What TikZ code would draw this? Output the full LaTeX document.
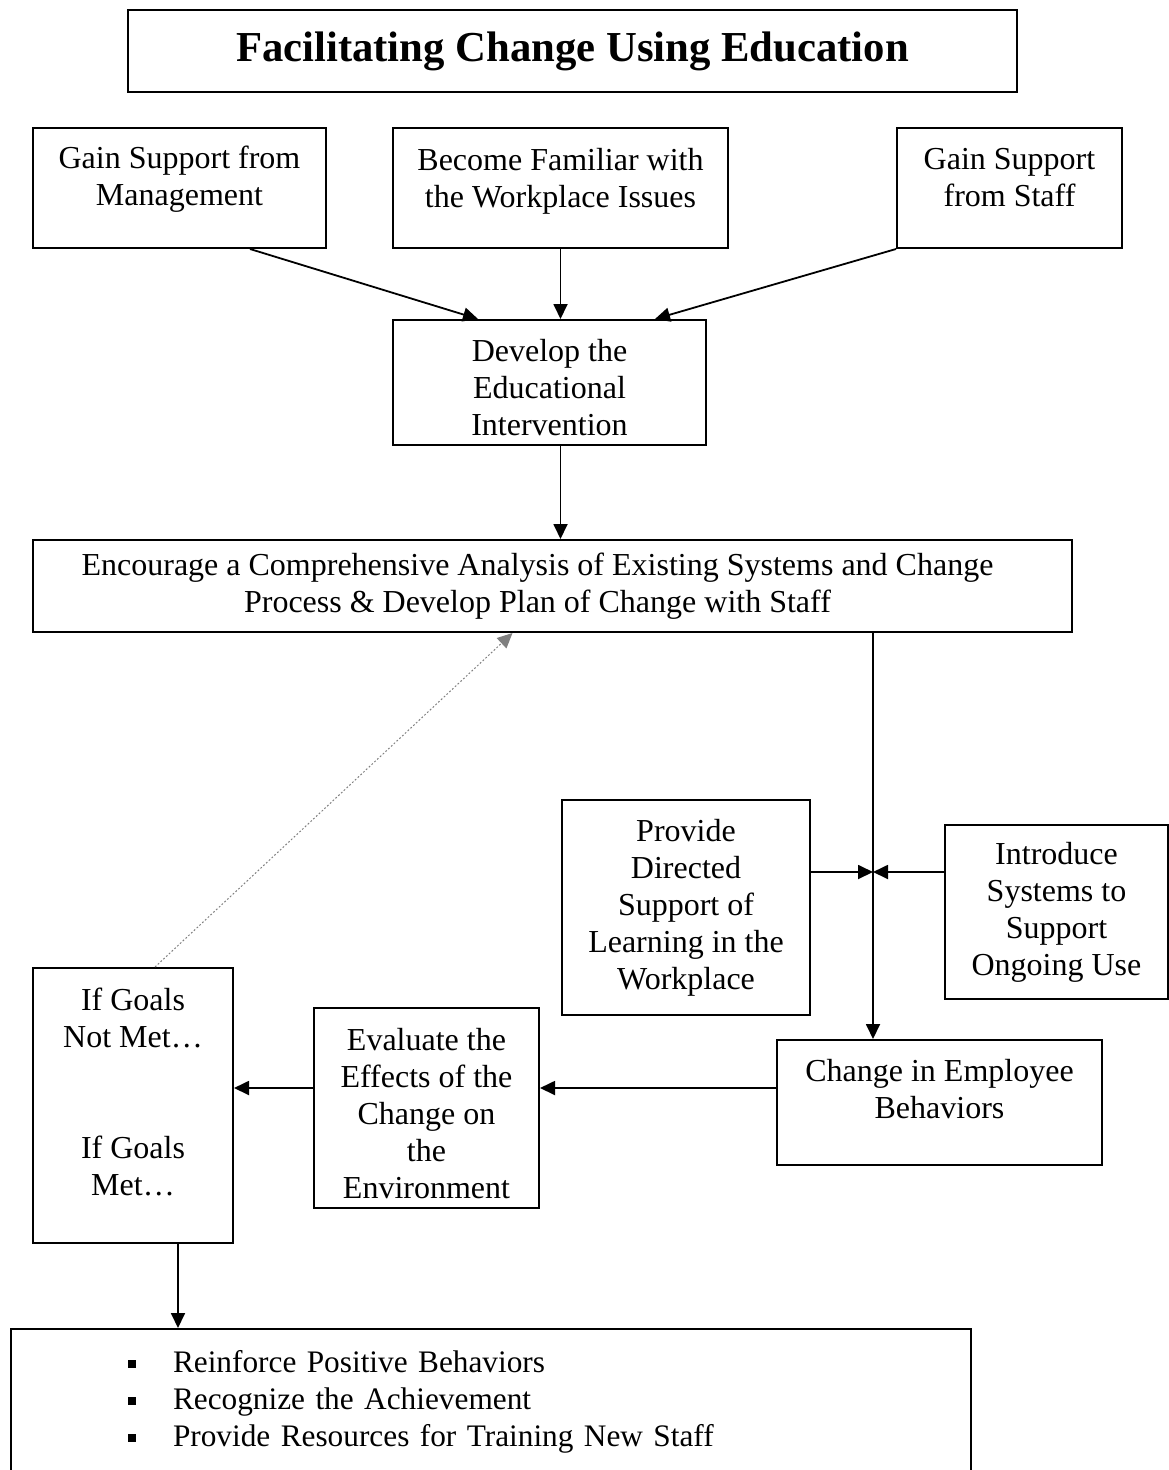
\documentclass[tikz,border=0pt]{standalone}
\usepackage{fontspec}
\setmainfont{Liberation Serif}
\usetikzlibrary{arrows.meta}

\begin{document}
\begin{tikzpicture}[x=1pt,y=-1pt,
  box/.style={draw,line width=2pt,align=center,inner sep=0pt,font=\fontsize{32}{37}\selectfont},
  txt/.style={align=center,inner sep=0pt,font=\fontsize{32}{37}\selectfont},
  arr/.style={line width=1.8pt,-{Triangle[length=15pt,width=14pt]}}]
\useasboundingbox (0,0) rectangle (1169,1470);
% heading
\node[box,line width=2.5pt,minimum width=889,minimum height=82,
  font=\fontsize{42.7}{48}\selectfont\bfseries] (title) at (572.5,51) {Facilitating Change Using Education};
% first row
\node[box,minimum width=293,minimum height=120] (mgmt) at (179.5,188) {};
\node[txt] at ([yshift=9pt]mgmt) {Gain Support from\\Management};
\node[box,minimum width=335,minimum height=120] (familiar) at (560.5,188) {};
\node[txt] at ([yshift=7pt]familiar) {Become Familiar with\\the Workplace Issues};
\node[box,minimum width=225,minimum height=120] (staff) at (1009.5,188) {};
\node[txt] at ([yshift=10pt]staff) {Gain Support\\from Staff};
\node[box,minimum width=313,minimum height=125] (develop) at (549.5,382.5) {};
\node[txt] at ([yshift=-5pt]develop) {Develop the\\Educational\\Intervention};
\node[box,minimum width=1039,minimum height=92] (plan) at (552.5,586) {};
\node[txt] at ([xshift=-15pt]plan) {Encourage a Comprehensive Analysis of Existing Systems and Change\\Process \& Develop Plan of Change with Staff};
% supports
\node[box,minimum width=248,minimum height=215] (directed) at (686,907.5) {Provide\\Directed\\Support of\\Learning in the\\Workplace};
\node[box,minimum width=223,minimum height=174] (introduce) at (1056.5,912) {Introduce\\Systems to\\Support\\Ongoing Use};
% outcome row
\node[box,minimum width=325,minimum height=125] (change) at (939.5,1102.5) {};
\node[txt] at ([yshift=13pt]change) {Change in Employee\\Behaviors};
\node[box,minimum width=225,minimum height=200] (evaluate) at (426.5,1108) {};
\node[txt] at ([yshift=-6pt]evaluate) {Evaluate the\\Effects of the\\Change on\\the\\Environment};
\node[box,minimum width=200,minimum height=275] (ifgoals) at (133,1105.5) {};
\node[txt] at ([yshift=14pt]ifgoals) {If Goals\\Not Met…\\[74pt]If Goals\\Met…};
\node[box,anchor=north west,minimum width=960,minimum height=146,text width=726,align=left,
  font=\fontsize{31.3}{37}\selectfont] (actions) at (10,1328)
  {\makebox[45pt][l]{\rule[5pt]{8pt}{8pt}}Reinforce Positive Behaviors\\
   \makebox[45pt][l]{\rule[5pt]{8pt}{8pt}}Recognize the Achievement\\
   \makebox[45pt][l]{\rule[5pt]{8pt}{8pt}}Provide Resources for Training New Staff};
% connectors
\coordinate (hub) at (873,872);
\coordinate (row) at (0,1088);
\coordinate (down) at ([xshift=45pt]ifgoals.south);
\draw[arr] ([xshift=70.5pt]mgmt.south) -- ([xshift=-71.5pt]develop.north);
\draw[arr] (familiar.south) -- (familiar.south |- develop.north);
\draw[arr] (staff.south west) -- ([xshift=105.5pt]develop.north);
\draw[arr] (familiar.south |- develop.south) -- (familiar.south |- plan.north);
\draw[arr] (hub |- plan.south) -- (hub |- change.north);
\draw[arr] (directed.east |- hub) -- (hub);
\draw[arr] (introduce.west |- hub) -- (hub);
\draw[arr] (change.west |- row) -- (evaluate.east |- row);
\draw[arr] (evaluate.west |- row) -- (ifgoals.east |- row);
\draw[arr] (down) -- (down |- actions.north);
\draw[arr,gray,dotted,line width=1pt] ([xshift=22pt]ifgoals.north) -- ([xshift=-40pt]plan.south);
\end{tikzpicture}
\end{document}
